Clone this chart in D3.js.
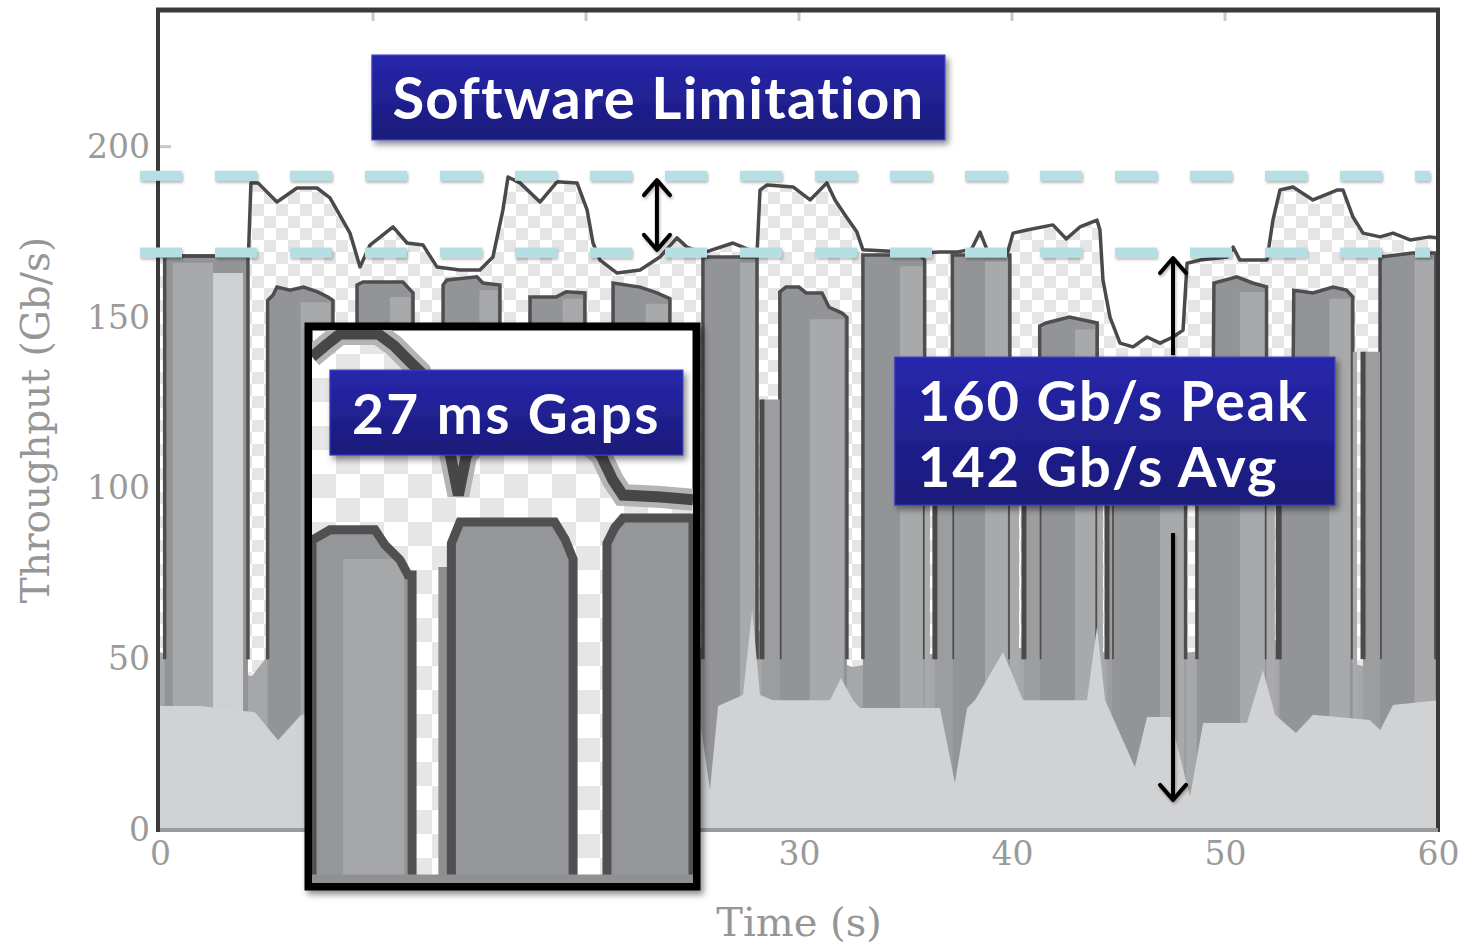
<!DOCTYPE html>
<html>
<head>
<meta charset="utf-8">
<script src="https://cdn.jsdelivr.net/npm/d3@7"></script>
<style>
body { margin: 0; background: #fff; }
svg { display: block; }
</style>
</head>
<body>
<svg id="chart" width="1462" height="947"></svg>
<script>
// ---- data (time in s, throughput in Gb/s) ----
var xTicks = [0, 10, 20, 30, 40, 50, 60];
var yTicks = [0, 50, 100, 150, 200];
var limitLevels = [191.5, 169];

// total throughput (outline of the checkered region)
var totalLine = [[0,168],[4.15,168],[4.27,189.4],[4.6,189.4],[5.49,183.8],[6.43,187.9],[7.37,187.9],[7.98,185],
  [8.92,174.7],[9.39,164.8],[9.86,171.2],[10.94,176.5],[11.6,171.8],[12.35,171.2],[13.0,164.8],[14.08,163.9],
  [15.02,163.9],[15.63,167.7],[16.1,181.5],[16.34,191.1],[16.9,189.4],[17.84,183.8],[18.64,189.7],[19.58,189.4],
  [20.05,181.5],[20.33,171.8],[20.66,166.8],[21.46,163],[22.54,163.9],[23.47,167.7],[24.27,173.3],[24.74,170.6],
  [25.49,168.9],[26.9,171.8],[28.03,168.9],[28.17,187.3],[28.5,188.8],[29.72,188.2],[30.52,184.4],[31.31,189.4],
  [31.69,184.4],[32.16,180],[32.72,175],[33.0,169.8],[35.82,168.9],[36.62,169.2],[37.46,169.2],[38.1,170],
  [38.5,175],[38.83,169.8],[39.8,169.2],[40.05,174.7],[40.7,175.6],[41.92,177.1],[42.55,173],[43.19,176.5],
  [43.99,178.5],[44.13,175.6],[44.27,161],[44.6,150.1],[45.07,142.5],[45.68,141.4],[46.34,144.3],[46.95,142.5],
  [47.56,144.3],[48.03,146.3],[48.22,165.9],[48.83,166.8],[50.1,167.7],[50.38,170.6],[50.7,166.8],[51.97,166.8],
  [52.25,178.5],[52.58,187.3],[53.19,188.2],[54.13,184.4],[55.26,187.3],[55.54,187.3],[56.01,179.4],[56.48,174.7],
  [57.28,173.6],[57.89,174.7],[58.69,172.7],[59.62,173.6],[60,173.3]];

// background traffic level under the gaps
var midTop = [[0,52],[4.3,45],[5.2,52],[8.3,50],[12,52],[16,52],[20,52],[24.5,52],[28.3,58.5],[32.5,47.7],
  [36.5,51.8],[40.5,53.3],[44.4,52],[48.4,52],[52.3,55.6],[56.6,47.7],[60,50]];

// lowest (light) flow
var baseTop = [[0,36.3],[1.88,36.3],[4.46,34.5],[5.54,26.3],[6.57,33.4],[7.5,36],[15,36],[24.9,36],[25.35,32],
  [25.82,11.7],[26.2,36.3],[27.37,39.5],[27.8,64.4],[28.17,39.5],[28.78,38],[31.46,38],[31.97,44.5],[32.54,38],
  [32.86,35.7],[36.62,35.7],[37.32,13.8],[37.89,35.7],[38.26,38],[39.58,52.1],[40.52,38],[43.52,38],[43.99,59.4],
  [44.37,38],[45.77,18.4],[46.34,33.1],[47.42,33.1],[48.36,9.7],[48.97,31.3],[51.03,31.3],[51.78,46.8],
  [52.35,33.7],[53.33,28.4],[54.13,33.7],[56.8,32.2],[57.28,29.3],[57.89,36.6],[60,38]];

// bursts between the 27 ms gaps (top profile of each)
var bursts = [
  [[0.22,168],[4.13,168]],
  [[5.05,155],[5.31,156.6],[5.49,158.9],[6.1,158],[6.74,158.9],[7.4,157.5],[7.88,156],[8.12,155]],
  [[9.25,159.5],[9.53,160.4],[11.4,160.4],[11.88,157.2]],
  [[13.29,159.5],[13.47,161],[14.88,161.9],[15.16,160.1],[15.96,159.5]],
  [[17.37,156],[18.6,156],[19.06,157.5],[19.95,157.2]],
  [[21.27,160.1],[22.54,158.9],[23.33,157.2],[23.94,155.5]],
  [[25.49,167.7],[28.03,167.7]],
  [[29.1,157.5],[29.39,158.9],[30.0,158.9],[30.33,157.2],[31.08,157.2],[31.41,153],[32.02,151.3],[32.25,150]],
  [[33.0,168.3],[35.68,168.3],[35.9,166.8]],
  [[37.2,168.3],[39.9,168.3]],
  [[41.3,147.5],[41.6,148.4],[42.7,150.1],[44.0,148.4]],
  [[44.7,137],[48.15,137]],
  [[48.68,134],[49.45,134],[49.48,160.1],[50.55,161.9],[51.3,160.1],[51.95,159]],
  [[52.58,136],[53.2,136],[53.23,158],[54.13,157.2],[55.07,158.9],[55.7,158],[56.0,156]],
  [[57.28,167.7],[58.8,168.9],[59.9,168.9]]
];

// lighter flows inside bursts: [start, end, top]
var bands = [[0.6,2.49,166],[6.6,8.0,154.5],[10.8,11.75,156],[15.0,15.85,158],[18.9,19.85,155.5],
  [22.8,23.85,154],[27.23,27.95,166],[30.5,32.1,149.5],[34.74,35.85,165],[38.73,39.8,166.5],
  [42.96,43.9,146.5],[46.95,48.1,135.5],[50.7,51.88,157.5],[54.9,55.87,155.5],[58.9,59.85,167]];
var paleBands = [[2.49,3.9,163]];

// where the gaps narrow lower down: [white start, white end, level]
var narrowGaps = [[28.03,28.26,126],[36.15,36.38,135],[40.33,40.56,135],[44.27,44.46,135],
  [52.34,52.5,135],[56.2,56.48,140]];

// zoomed inset (ms, relative level)
var insetOutline = [[0,133.2],[7,136.2],[14,139],[33,139],[41,136],[48,132.4],[54,129.4],[69,108.4],[73,98.2],
  [77,108.4],[94,117],[124,117],[144,108.4],[150,102],[155,98.2],[174,97.7],[190,97]];
var insetBars = [
  [[0,86.8],[9,89.4],[31.4,89.4],[36.4,85.6],[43.9,81.8],[47.9,78],[49.9,78]],
  [[69.5,86],[73.8,91.4],[121,91.4],[126.2,87],[130.2,82]],
  [[147.1,86],[151,90],[155.1,92.4],[190,92.4]]
];
var insetBands = [[15.5,45.9,82],[63,68,80]];

// annotations in data coordinates
var boxes = [
  { lines: ["Software Limitation"], t0: 9.95, t1: 36.85, v0: 202, v1: 226.8 },
  { lines: ["160 Gb/s Peak", "142 Gb/s Avg"], t0: 34.5, t1: 55.16, v0: 95.1, v1: 138.4 }
];
var gapBox = { lines: ["27 ms Gaps"], t0: 7.98, t1: 24.55, v0: 109.75, v1: 134.6 };
var arrows = [
  { t: 23.33, from: 169.8, to: 190.2, both: true },
  { t: 47.56, from: 139, to: 167.4, both: false },
  { t: 47.56, from: 86.9, to: 8.8, both: false }
];

// ---- layout ----
var gapFloor = 50;
var x = d3.scaleLinear().domain([0, 60]).range([160, 1438]);
var y = d3.scaleLinear().domain([0, 240]).range([830, 10]);
var ix = d3.scaleLinear().domain([0, 190]).range([312, 693]);
var iy = d3.scaleLinear().domain([0, 140]).range([883, 330]);

var svg = d3.select("#chart");
var defs = svg.append("defs");

var pat = defs.append("pattern").attr("id", "checker")
  .attr("width", 24).attr("height", 24).attr("patternUnits", "userSpaceOnUse");
pat.append("rect").attr("width", 24).attr("height", 24).attr("fill", "#ffffff");
pat.append("rect").attr("width", 12).attr("height", 12).attr("fill", "#e5e5e5");
pat.append("rect").attr("x", 12).attr("y", 12).attr("width", 12).attr("height", 12).attr("fill", "#e5e5e5");

var pat2 = defs.append("pattern").attr("id", "checkerBig")
  .attr("x", 312).attr("y", 330)
  .attr("width", 48).attr("height", 48).attr("patternUnits", "userSpaceOnUse");
pat2.append("rect").attr("width", 48).attr("height", 48).attr("fill", "#ffffff");
pat2.append("rect").attr("width", 24).attr("height", 24).attr("fill", "#e6e6e6");
pat2.append("rect").attr("x", 24).attr("y", 24).attr("width", 24).attr("height", 24).attr("fill", "#e6e6e6");

var grad = defs.append("linearGradient").attr("id", "boxBlue")
  .attr("x1", 0).attr("y1", 0).attr("x2", 0).attr("y2", 1);
grad.append("stop").attr("offset", "0%").attr("stop-color", "#2727ad");
grad.append("stop").attr("offset", "100%").attr("stop-color", "#1a1a78");

var sh = defs.append("filter").attr("id", "shadow")
  .attr("x", "-10%").attr("y", "-10%").attr("width", "125%").attr("height", "130%");
sh.append("feDropShadow").attr("dx", 3).attr("dy", 4).attr("stdDeviation", 3)
  .attr("flood-color", "#000").attr("flood-opacity", 0.45);
var sh2 = defs.append("filter").attr("id", "softShadow")
  .attr("x", "-20%").attr("y", "-20%").attr("width", "150%").attr("height", "150%");
sh2.append("feDropShadow").attr("dx", 1).attr("dy", 2).attr("stdDeviation", 1.5)
  .attr("flood-color", "#000").attr("flood-opacity", 0.3);

defs.append("clipPath").attr("id", "plotClip").append("rect")
  .attr("x", x(0)).attr("y", y(240)).attr("width", x(60) - x(0)).attr("height", y(0) - y(240));
defs.append("clipPath").attr("id", "insetClip").append("rect")
  .attr("x", ix(0)).attr("y", iy(140)).attr("width", ix(190) - ix(0)).attr("height", iy(0) - iy(140));

// ---- axes text ----
var axisFont = "'DejaVu Serif', serif";
var gx = svg.append("g").attr("transform", "translate(0," + y(0) + ")")
  .call(d3.axisBottom(x).tickValues(xTicks).tickSize(0).tickPadding(12));
var gy = svg.append("g").attr("transform", "translate(" + x(0) + ",0)")
  .call(d3.axisLeft(y).tickValues(yTicks).tickSize(0).tickPadding(10));
[gx, gy].forEach(function (g) {
  g.select(".domain").remove();
  g.selectAll("text").attr("font-family", axisFont).attr("font-size", 33).attr("fill", "#9a9a9a");
});

svg.append("text").attr("x", (x(0) + x(60)) / 2).attr("y", 936)
  .attr("text-anchor", "middle").attr("font-family", axisFont).attr("font-size", 40)
  .attr("fill", "#969696").text("Time (s)");
svg.append("text").attr("transform", "translate(49," + y(120) + ") rotate(-90)")
  .attr("text-anchor", "middle").attr("font-family", axisFont).attr("font-size", 39)
  .attr("fill", "#969696").text("Throughput (Gb/s)");

// small inward ticks
svg.append("g").selectAll("line").data(xTicks.slice(1, -1)).enter().append("line")
  .attr("x1", function (d) { return x(d); }).attr("x2", function (d) { return x(d); })
  .attr("y1", y(240)).attr("y2", y(240) + 11)
  .attr("stroke", "#c8c8c8").attr("stroke-width", 3);
svg.append("g").selectAll("line").data(yTicks.slice(1)).enter().append("line")
  .attr("x1", x(0)).attr("x2", x(0) + 11)
  .attr("y1", function (d) { return y(d); }).attr("y2", function (d) { return y(d); })
  .attr("stroke", "#c8c8c8").attr("stroke-width", 3);

// ---- stacked throughput ----
var areaTop = d3.area().x(function (d) { return x(d[0]); }).y0(y(0)).y1(function (d) { return y(d[1]); });
var lineTop = d3.line().x(function (d) { return x(d[0]); }).y(function (d) { return y(d[1]); });
var flat = function (b) { return areaTop([[b[0], b[2]], [b[1], b[2]]]); };
var plot = svg.append("g").attr("clip-path", "url(#plotClip)");

plot.append("path").datum(totalLine).attr("d", areaTop).attr("fill", "url(#checker)");
plot.append("path").datum(midTop).attr("d", areaTop).attr("fill", "#a6a7a9");

plot.selectAll(".burst").data(bursts).enter().append("path").attr("class", "burst")
  .attr("d", areaTop).attr("fill", "#939497");
plot.selectAll(".band").data(bands).enter().append("path").attr("class", "band")
  .attr("d", flat).attr("fill", "#a8a9ab");
plot.selectAll(".pale").data(paleBands).enter().append("path").attr("class", "pale")
  .attr("d", flat).attr("fill", "#cfd0d2");
plot.selectAll(".burstEdge").data(bursts).enter().append("path").attr("class", "burstEdge")
  .attr("d", function (b) {
    var pts = [[b[0][0], gapFloor]].concat(b, [[b[b.length - 1][0], gapFloor]]);
    return lineTop(pts);
  })
  .attr("fill", "none").attr("stroke", "#4e4e4e").attr("stroke-width", 3.5);

// skirts that narrow the gaps below the burst tops
var starts = bursts.map(function (b) { return b[0][0]; });
var ends = bursts.map(function (b) { return b[b.length - 1][0]; });
narrowGaps.forEach(function (g) {
  var prevEnd = d3.max(ends.filter(function (e) { return e <= g[0] + 0.01; }));
  var nextStart = d3.min(starts.filter(function (s) { return s >= g[1] - 0.01; }));
  if (g[0] - prevEnd > 0.02) plot.append("path").attr("d", flat([prevEnd, g[0], g[2]])).attr("fill", "#a9aaac");
  if (nextStart - g[1] > 0.02) plot.append("path").attr("d", flat([g[1], nextStart, g[2]])).attr("fill", "#9c9d9f");
  plot.append("path").attr("d", lineTop([[g[1], gapFloor], [g[1], g[2]]]))
    .attr("stroke", "#4a4a4a").attr("stroke-width", 5);
});

plot.append("path").datum(baseTop).attr("d", areaTop).attr("fill", "#d1d2d4");
plot.append("path").datum(totalLine).attr("d", lineTop)
  .attr("fill", "none").attr("stroke", "#4a4a4a").attr("stroke-width", 3.5).attr("stroke-linejoin", "round");

// ---- frame ----
svg.append("line").attr("x1", x(0) - 4).attr("x2", x(60) + 2).attr("y1", y(240)).attr("y2", y(240))
  .attr("stroke", "#3a3a3a").attr("stroke-width", 5);
svg.append("line").attr("x1", x(0) - 2).attr("x2", x(0) - 2).attr("y1", y(240)).attr("y2", y(0) + 2)
  .attr("stroke", "#3a3a3a").attr("stroke-width", 4);
svg.append("line").attr("x1", x(60)).attr("x2", x(60)).attr("y1", y(240)).attr("y2", y(0) + 2)
  .attr("stroke", "#3a3a3a").attr("stroke-width", 4);
svg.append("line").attr("x1", x(0)).attr("x2", x(60)).attr("y1", y(0)).attr("y2", y(0))
  .attr("stroke", "#999a9b").attr("stroke-width", 4);

// ---- software limitation band ----
svg.append("g").attr("filter", "url(#softShadow)").selectAll("line").data(limitLevels).enter().append("line")
  .attr("x1", 140).attr("x2", 1430)
  .attr("y1", function (d) { return y(d); }).attr("y2", function (d) { return y(d); })
  .attr("stroke", "#b6dfe3").attr("stroke-width", 10).attr("stroke-dasharray", "42 33");

// ---- arrows and labels ----
function drawArrow(a) {
  var g = svg.append("g").attr("filter", "url(#softShadow)");
  var cx = x(a.t);
  g.append("line").attr("x1", cx).attr("x2", cx).attr("y1", y(a.from)).attr("y2", y(a.to))
    .attr("stroke", "#000").attr("stroke-width", 4);
  function head(v, other) {
    var tip = y(v), dir = y(other) > tip ? 1 : -1;
    g.append("path")
      .attr("d", "M" + (cx - 13) + "," + (tip + dir * 15) + "L" + cx + "," + tip + "L" + (cx + 13) + "," + (tip + dir * 15))
      .attr("fill", "none").attr("stroke", "#000").attr("stroke-width", 4)
      .attr("stroke-linecap", "round").attr("stroke-linejoin", "round");
  }
  head(a.to, a.from);
  if (a.both) head(a.from, a.to);
}

function drawBox(b, size, spacing, align) {
  var g = svg.append("g");
  var bx = x(b.t0), by = y(b.v1), bw = x(b.t1) - x(b.t0), bh = y(b.v0) - y(b.v1);
  g.append("rect").attr("x", bx).attr("y", by).attr("width", bw).attr("height", bh)
    .attr("fill", "url(#boxBlue)").attr("stroke", "#3b3bc4").attr("stroke-width", 1.2)
    .attr("filter", "url(#shadow)");
  b.lines.forEach(function (s, i) {
    g.append("text")
      .attr("x", align === "start" ? bx + 23 : bx + bw / 2)
      .attr("y", by + 64 + i * 66)
      .attr("text-anchor", align)
      .attr("font-family", "Lato, 'Open Sans', sans-serif").attr("font-weight", 700)
      .attr("font-size", size).attr("letter-spacing", spacing).attr("fill", "#ffffff").text(s);
  });
}

drawArrow(arrows[0]);
drawBox(boxes[0], 58, 1.2, "middle");

// ---- inset (zoom on the gaps) ----
var iArea = d3.area().x(function (d) { return ix(d[0]); }).y0(iy(0)).y1(function (d) { return iy(d[1]); });
var iLine = d3.line().x(function (d) { return ix(d[0]); }).y(function (d) { return iy(d[1]); });
var ins = svg.append("g");
ins.append("rect").attr("x", ix(0) - 3.5).attr("y", iy(140) - 3.5)
  .attr("width", ix(190) - ix(0) + 7).attr("height", iy(0) - iy(140) + 7)
  .attr("fill", "#fff").attr("stroke", "#000").attr("stroke-width", 8).attr("filter", "url(#shadow)");
var inner = ins.append("g").attr("clip-path", "url(#insetClip)");
inner.append("path").datum(insetOutline).attr("d", iArea).attr("fill", "url(#checkerBig)");
inner.selectAll(".iband").data(insetBands.slice(1)).enter().append("path")
  .attr("d", function (b) { return iArea([[b[0], b[2]], [b[1], b[2]]]); }).attr("fill", "#8e8f91");
inner.selectAll(".ibar").data(insetBars).enter().append("path").attr("class", "ibar")
  .attr("d", iArea).attr("fill", "#95969a");
inner.selectAll(".iband2").data(insetBands.slice(0, 1)).enter().append("path")
  .attr("d", function (b) { return iArea([[b[0], b[2]], [b[1], b[2]]]); }).attr("fill", "#a6a7a9");
inner.selectAll(".ibarEdge").data(insetBars).enter().append("path").attr("class", "ibarEdge")
  .attr("d", function (b) {
    var pts = [[b[0][0], 0]].concat(b, [[b[b.length - 1][0], 0]]);
    return iLine(pts);
  })
  .attr("fill", "none").attr("stroke", "#505050").attr("stroke-width", 9);
inner.append("path").datum(insetOutline).attr("d", iLine)
  .attr("fill", "none").attr("stroke", "#b4b4b4").attr("stroke-width", 22);
inner.append("path").datum(insetOutline).attr("d", iLine)
  .attr("fill", "none").attr("stroke", "#474747").attr("stroke-width", 11);
inner.append("line").attr("x1", ix(0)).attr("x2", ix(190)).attr("y1", iy(1)).attr("y2", iy(1))
  .attr("stroke", "#8f9092").attr("stroke-width", 9);

drawBox(gapBox, 55, 2.5, "middle");
drawBox(boxes[1], 56, 1.9, "start");
drawArrow(arrows[1]);
drawArrow(arrows[2]);
</script>
</body>
</html>
